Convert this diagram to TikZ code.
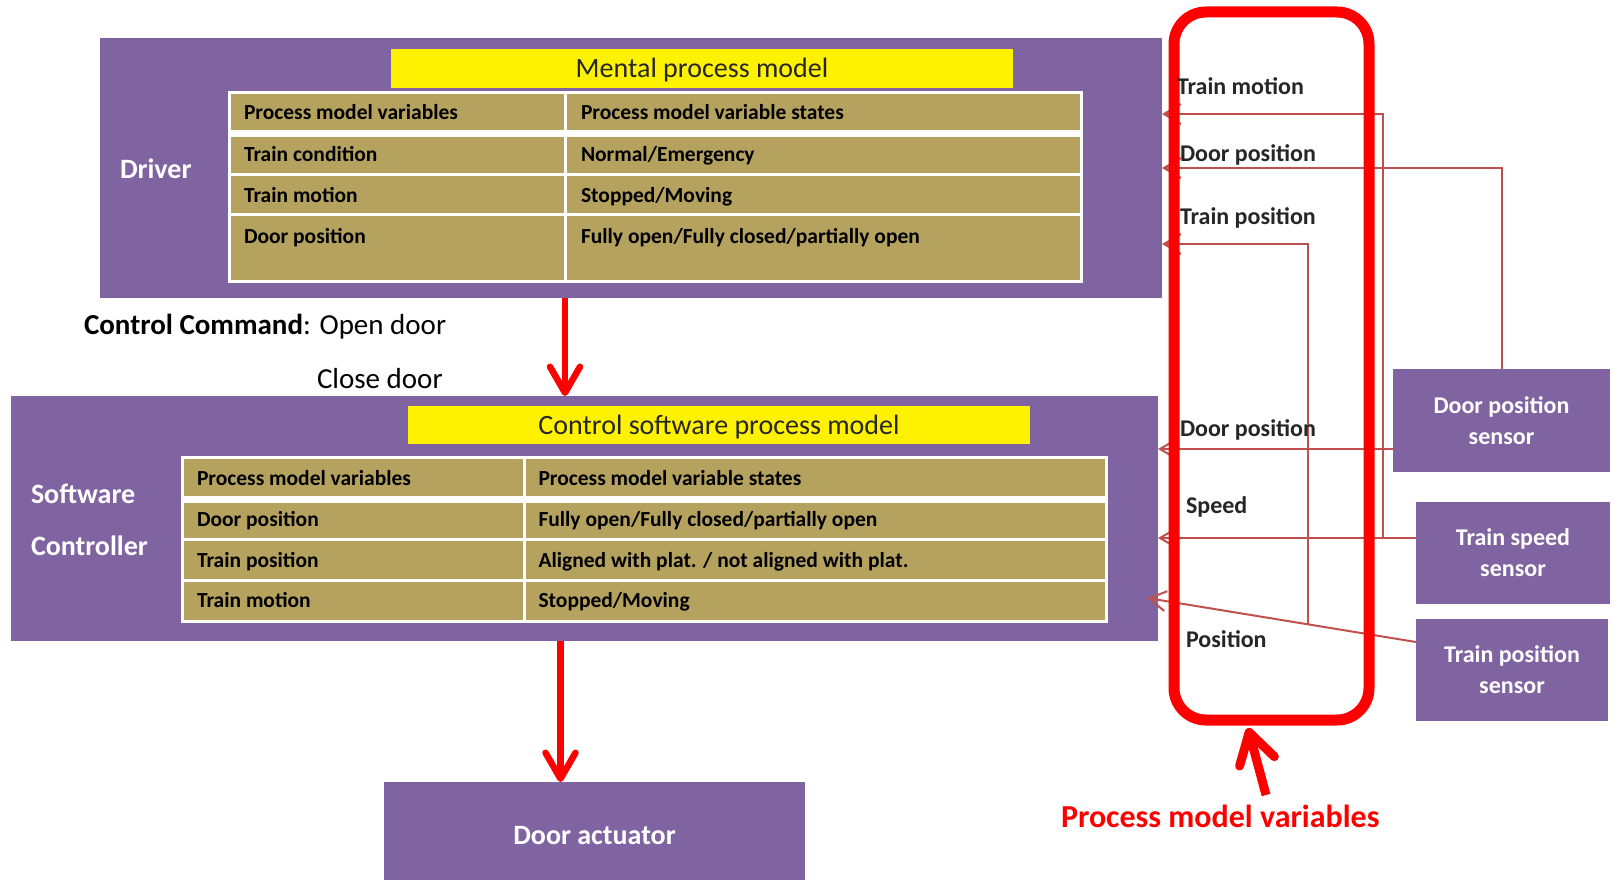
\documentclass[tikz,border=0pt]{standalone}
\usepackage{fontspec}
\setmainfont{Carlito}
\usetikzlibrary{arrows.meta,calc}

\definecolor{boxpurple}{HTML}{8064A2}
\definecolor{cellkhaki}{RGB}{180,162,94}
\definecolor{sigred}{HTML}{C0504D}
\definecolor{inkgray}{HTML}{262626}

\newcommand{\setpx}[2]{\fontsize{#1}{#2}\selectfont}

\begin{document}
\begin{tikzpicture}[x=1pt, y=-1pt,
  every node/.style={inner sep=0pt, outer sep=0pt},
  block/.style={rectangle, fill=boxpurple, text=white, font=\setpx{28}{34}\bfseries},
  sensor/.style={block, align=center, font=\setpx{24}{31}\bfseries},
  titlebar/.style={rectangle, fill=yellow, text=inkgray, font=\setpx{28}{34}, text height=18pt, text depth=0pt},
  tablebody/.style={fill=cellkhaki},
  tablerule/.style={draw=white, line width=3pt},
  headrule/.style={draw=white, line width=7pt},
  celltext/.style={anchor=base west, font=\setpx{21.5}{26}\bfseries, text=black},
  sidetext/.style={anchor=base west, text=white, font=\setpx{28}{34}\bfseries},
  vartext/.style={anchor=base west, text=inkgray, font=\setpx{24}{30}\bfseries},
  cmdtext/.style={anchor=base west, text=black, font=\setpx{29}{34}},
  sig/.style={draw=sigred, line width=2pt, -{Straight Barb[length=17pt,width=20pt]}},
  cmd/.style={draw=red, line width=6.5pt, -{Straight Barb[round,length=26pt,width=30pt]}},
  pmvarrow/.style={draw=red, line width=9pt, -{Straight Barb[round,length=30pt,width=36pt]}},
  varframe/.style={rectangle, draw=red, line width=11pt, rounded corners=32pt},
]

% canvas
\fill[white] (0,0) rectangle (1614,880);
\useasboundingbox (0,0) rectangle (1614,880);

% main blocks
\node[block, minimum width=1062pt, minimum height=260pt] (driver) at (631,168) {};
\node[block, minimum width=1147pt, minimum height=245pt] (ctrl) at (584.5,518.5) {};
\node[block, minimum width=421pt, minimum height=98pt, text height=26pt, text depth=0pt] (act) at (594.5,831) {Door actuator};

% sensors
\node[sensor, minimum width=217pt, minimum height=103pt] (door) at (1501.5,420.5) {Door position\\sensor};
\node[sensor, minimum width=194pt, minimum height=102pt] (spd) at (1513,553) {Train speed\\sensor};
\node[sensor, minimum width=192pt, minimum height=102pt] (pos) at (1512,670) {Train position\\sensor};

% block names
\node[sidetext] (drvname) at (120,178) {Driver};
\node[sidetext] (swname) at (31,503) {Software};
\node[sidetext] (ctlname) at (31,555) {Controller};

% title bars
\node[titlebar, minimum width=622pt, minimum height=39pt] (mpm) at (702,68.5) {Mental process model};
\node[titlebar, minimum width=622pt, minimum height=38pt] (cspm) at (719,425) {Control software process model};

% driver's table
\fill[tablebody] (229.5,92.5) rectangle (1081.5,281.5);
\draw[headrule] (229.5,133.5) -- (1081.5,133.5);
\draw[tablerule] (229.5,174) -- (1081.5,174) (229.5,214.5) -- (1081.5,214.5) (565.5,92.5) -- (565.5,281.5);
\draw[tablerule] (229.5,92.5) rectangle (1081.5,281.5);
\node[celltext] (d11) at (244,120) {Process model variables};
\node[celltext] (d12) at (581,120) {Process model variable states};
\node[celltext] (d21) at (244,161) {Train condition};
\node[celltext] (d22) at (581,161) {Normal/Emergency};
\node[celltext] (d31) at (244,202) {Train motion};
\node[celltext] (d32) at (581,202) {Stopped/Moving};
\node[celltext] (d41) at (244,243) {Door position};
\node[celltext] (d42) at (581,243) {Fully open/Fully closed/partially open};

% controller's table
\fill[tablebody] (182,457.5) rectangle (1106,621);
\draw[headrule] (182,499) -- (1106,499);
\draw[tablerule] (182,539.5) -- (1106,539.5) (182,580.5) -- (1106,580.5) (524,457.5) -- (524,621);
\draw[tablerule] (182,457.5) rectangle (1106,621);
\node[celltext] (c11) at (197,485) {Process model variables};
\node[celltext] (c12) at (538.5,485) {Process model variable states};
\node[celltext] (c21) at (197,526) {Door position};
\node[celltext] (c22) at (538.5,526) {Fully open/Fully closed/partially open};
\node[celltext] (c31) at (197,567) {Train position};
\node[celltext] (c32) at (538.5,567) {Aligned with plat. / not aligned with plat.};
\node[celltext] (c41) at (197,607.5) {Train motion};
\node[celltext] (c42) at (538.5,607.5) {Stopped/Moving};

% control commands
\node[cmdtext] (cmdopen) at (84,334.5) {\textbf{Control Command}: Open door};
\node[cmdtext] (cmdclose) at (317,388.5) {Close door};
\coordinate (cmdx) at (565,0);
\coordinate (actx) at (560.5,0);
\draw[cmd] (driver.south -| cmdx) -- (ctrl.north -| cmdx);
\draw[cmd] (ctrl.south -| actx) -- (act.north -| actx);

% feedback levels
\coordinate (yTM) at (0,114);
\coordinate (yDP) at (0,168);
\coordinate (yTP) at (0,244);
\coordinate (yDC) at (0,449);
\coordinate (ySP) at (0,538);
\coordinate (xSP) at (1383,0);

% train speed sensor
\draw[sig] (spd.west |- ySP) -- (ctrl.east |- ySP);
\draw[sig] (xSP |- ySP) -- (xSP |- yTM) -- (driver.east |- yTM);
% door position sensor
\draw[sig] (door.north) -- (door.north |- yDP) -- (driver.east |- yDP);
\draw[sig] (door.west |- yDC) -- (ctrl.east |- yDC);
% train position sensor
\coordinate (posout) at ([yshift=28pt]pos.west);
\coordinate (posin) at (1147,598);
\draw[sig] (posout) -- (posin);
\coordinate (posbr) at ($(posout)!0.4015!(posin)$);
\draw[sig] (posbr) -- (posbr |- yTP) -- (driver.east |- yTP);

% process model variables frame
\node[varframe, minimum width=195pt, minimum height=708pt] (pmv) at (1271.5,366) {};
\node[vartext] (vTM) at (1177,95) {Train motion};
\node[vartext] (vDP) at (1180,161) {Door position};
\node[vartext] (vTP) at (1180,224) {Train position};
\node[vartext] (vDC) at (1180,436) {Door position};
\node[vartext] (vSP) at (1186,513) {Speed};
\node[vartext] (vPO) at (1186,647) {Position};

% caption with pointer
\node[anchor=base west, text=red, font=\setpx{32}{38}\bfseries] (pmvname) at (1061,827) {Process model variables};
\coordinate (pmvtail) at (1266,795);
\coordinate (pmvtip) at (1248,728);
\draw[pmvarrow] (pmvtail) -- (pmvtip);

\end{tikzpicture}
\end{document}
